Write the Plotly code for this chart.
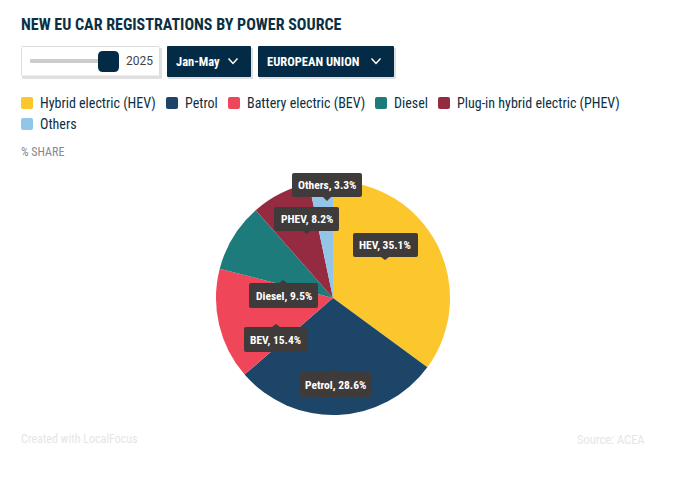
import plotly.graph_objects as go

W = 682
H = 487

# data
categories = ["Hybrid electric (HEV)", "Petrol", "Battery electric (BEV)", "Diesel", "Plug-in hybrid electric (PHEV)", "Others"]
short_names = ["HEV", "Petrol", "BEV", "Diesel", "PHEV", "Others"]
shares = [35.1, 28.6, 15.4, 9.5, 8.2, 3.3]
colors = ["#FCC62D", "#1C4567", "#F0465A", "#1E7B7B", "#952B40", "#92C5E8"]

NAVY = "#042B45"
FONT = "Roboto Condensed, Roboto"

# where the legend items and tooltips sit, in page pixels
legend_pos = [(21, 103), (166, 103), (228, 103), (375, 103), (438, 103), (21, 124)]
# x0, x1, y0, y1, pointer x, pointer tip y
tips = [
    (353, 418, 233, 257, 385, 260),
    (299, 372, 372, 397, 335, 369),
    (244, 307, 327, 352, 276, 324),
    (249, 318, 283, 308, 283, 280),
    (274, 339, 207, 231, 306.5, 234),
    (292, 362, 173, 197, 327, 201),
]

# the page puts the plot 8px in from the corner
PAGE_MARGIN = 8


def px(x):
    return (x - PAGE_MARGIN) / W


def py(y):
    return 1 - (y - PAGE_MARGIN) / H


def round_rect(x0, y0, x1, y1, r, fill, line=None):
    path = (
        f"M{px(x0 + r)},{py(y0)} L{px(x1 - r)},{py(y0)} Q{px(x1)},{py(y0)} {px(x1)},{py(y0 + r)} "
        f"L{px(x1)},{py(y1 - r)} Q{px(x1)},{py(y1)} {px(x1 - r)},{py(y1)} "
        f"L{px(x0 + r)},{py(y1)} Q{px(x0)},{py(y1)} {px(x0)},{py(y1 - r)} "
        f"L{px(x0)},{py(y0 + r)} Q{px(x0)},{py(y0)} {px(x0 + r)},{py(y0)} Z"
    )
    return dict(type="path", xref="paper", yref="paper", path=path, fillcolor=fill,
                line=dict(color=line or fill, width=1 if line else 0))


def chevron(cx, cy):
    path = f"M{px(cx - 4.5)},{py(cy - 2.5)} L{px(cx)},{py(cy + 2.5)} L{px(cx + 4.5)},{py(cy - 2.5)}"
    return dict(type="path", xref="paper", yref="paper", path=path, line=dict(color="white", width=1.5))


def text(x, y, s, size=12, color="#0B3044", anchor="left", bold=False, family=FONT):
    return dict(
        x=px(x), y=py(y), xref="paper", yref="paper", text=f"<b>{s}</b>" if bold else s,
        showarrow=False, xanchor=anchor, yanchor="middle", align=anchor,
        font=dict(family=family, size=size, color=color),
        borderpad=0, borderwidth=0,
    )


fig = go.Figure()
fig.add_trace(go.Pie(
    labels=short_names, values=shares, sort=False, direction="clockwise", rotation=0,
    marker=dict(colors=colors, line=dict(width=0)), textinfo="none", showlegend=False,
    domain=dict(x=[px(216), px(450)], y=[py(415), py(181)]),
))

shapes = []
annotations = []

annotations.append(text(21, 24, "NEW EU CAR REGISTRATIONS BY POWER SOURCE", size=16, bold=True))

# controls on top, drawn by hand since they only look like widgets here
for x0, x1 in [(21, 160), (167, 251), (258, 394)]:
    shapes.append(round_rect(x0 + 1, 48, x1 + 2, 79, 1, "rgba(0,0,0,0.12)"))
shapes.append(round_rect(21.5, 46.5, 159.5, 76, 1, "white", "#DDDDDD"))
shapes.append(round_rect(30, 59, 100, 63, 1, "#CCCCCC"))
shapes.append(round_rect(98, 51, 119, 72, 5, NAVY))
annotations.append(text(126, 61, "2025", size=12, color="#444444", family="Roboto"))
shapes.append(round_rect(167, 46, 251, 77, 1, NAVY))
annotations.append(text(176, 61, "Jan-May", size=12.5, color="white", bold=True))
shapes.append(chevron(233, 61))
shapes.append(round_rect(258, 46, 394, 77, 1, NAVY))
annotations.append(text(267, 61, "EUROPEAN UNION", size=12.5, color="white", bold=True))
shapes.append(chevron(376, 61))

# legend
for name, col, (lx, ly) in zip(categories, colors, legend_pos):
    shapes.append(round_rect(lx, ly - 6, lx + 12, ly + 6, 2, col))
    annotations.append(text(lx + 19, ly, name, size=14))

annotations.append(text(21, 152, "% SHARE", size=12, color="#888888"))

# tooltips
for name, val, (x0, x1, y0, y1, tx, ty) in zip(short_names, shares, tips):
    top, bottom = min(y0, y1), max(y0, y1)
    base = bottom if ty > bottom else top
    path = f"M{px(tx - 4)},{py(base)} L{px(tx)},{py(ty)} L{px(tx + 4)},{py(base)} Z"
    shapes.append(dict(type="path", xref="paper", yref="paper", path=path,
                       fillcolor="#3F3B3B", line=dict(width=0)))
    shapes.append(round_rect(x0, top, x1, bottom, 2, "#3F3B3B"))
    annotations.append(text((x0 + x1) / 2, (top + bottom) / 2, f"{name}, {val}%",
                            size=11.5, color="white", anchor="center", bold=True))

# footer
annotations.append(text(21, 439, "Created with LocalFocus", size=12, color="#E6E6E6"))
annotations.append(text(645, 439, "Source: ACEA", size=12.5, color="#E6E6E6", anchor="right"))

fig.update_layout(
    width=W, height=H, margin=dict(l=0, r=0, t=0, b=0),
    paper_bgcolor="white", plot_bgcolor="white",
    font=dict(family=FONT),
    shapes=shapes, annotations=annotations,
)

fig.write_html("out.html")
